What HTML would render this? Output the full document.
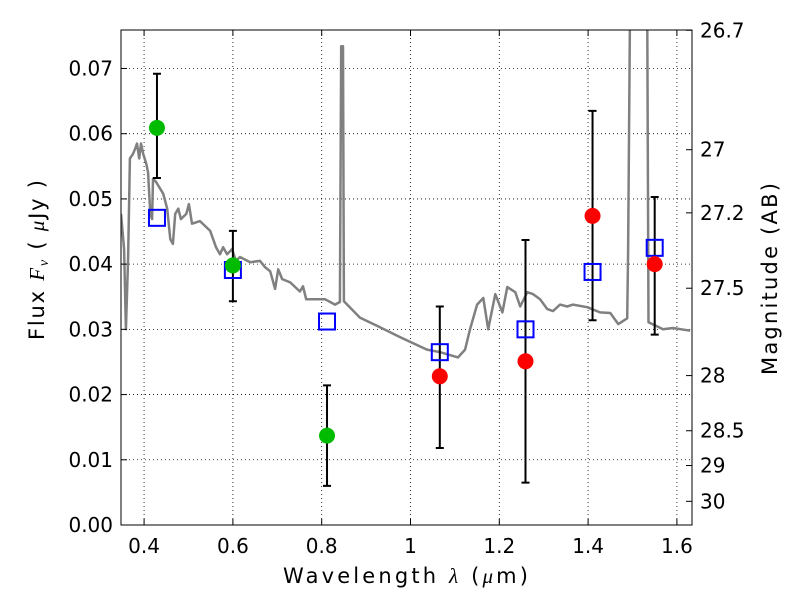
<!DOCTYPE html>
<html><head><meta charset="utf-8"><style>
body{margin:0;background:#fff;}
svg text{font-family:"DejaVu Sans","Liberation Sans",sans-serif;}
</style></head><body>
<svg id="chart" width="800" height="600" xmlns="http://www.w3.org/2000/svg">
<defs><clipPath id="clip"><rect x="121" y="30" width="571" height="495"/></clipPath></defs>
<g id="grid"></g>
<g id="spec" clip-path="url(#clip)"></g>
<g id="marks"></g>
<rect x="121" y="30" width="571" height="495" fill="none" stroke="#000" stroke-width="1"/>
<g id="axes"></g>
<text x="283" y="583" font-size="21" textLength="245" lengthAdjust="spacing">Wavelength  <tspan font-family="Liberation Serif" font-style="italic">λ</tspan> (<tspan font-family="Liberation Serif" font-style="italic">μ</tspan>m)</text>
<text transform="translate(44,340) rotate(-90)" font-size="21" textLength="160" lengthAdjust="spacing">Flux  <tspan font-family="Liberation Serif" font-style="italic">F</tspan><tspan font-family="Liberation Serif" font-size="14" dy="4" font-style="italic">ν</tspan><tspan dy="-4">  ( <tspan font-family="Liberation Serif" font-style="italic">μ</tspan>Jy )</tspan></text>
<text transform="translate(777,375) rotate(-90)" font-size="21" textLength="192" lengthAdjust="spacing">Magnitude (AB)</text>
</svg>
<script>
const xTicks=[0.4,0.6,0.8,1,1.2,1.4,1.6];
const xTickLabels=["0.4","0.6","0.8","1","1.2","1.4","1.6"];
const yTicks=[0,0.01,0.02,0.03,0.04,0.05,0.06,0.07];
const yTickLabels=["0.00","0.01","0.02","0.03","0.04","0.05","0.06","0.07"];
const magTicks=[26.7,27,27.2,27.5,28,28.5,29,30];
const magTickLabels=["26.7","27","27.2","27.5","28","28.5","29","30"];
const specLam=[0.348,0.355,0.359,0.364,0.368,0.375,0.380,0.384,0.389,0.393,0.398,0.405,0.409,0.414,0.418,0.420,0.427,0.443,0.452,0.459,0.465,0.470,0.477,0.483,0.495,0.501,0.508,0.526,0.549,0.562,0.571,0.578,0.587,0.598,0.607,0.616,0.639,0.661,0.673,0.684,0.695,0.702,0.711,0.729,0.751,0.758,0.765,0.785,0.808,0.830,0.841,0.844,0.848,0.850,0.886,0.932,0.977,1.037,1.067,1.107,1.123,1.134,1.150,1.164,1.175,1.191,1.207,1.218,1.236,1.247,1.263,1.276,1.292,1.308,1.321,1.337,1.353,1.366,1.398,1.427,1.450,1.468,1.488,1.490,1.499,1.510,1.525,1.533,1.536,1.569,1.591,1.630];
const specFlux=[0.0477,0.0423,0.0300,0.0408,0.0562,0.0569,0.0577,0.0585,0.0562,0.0585,0.0569,0.0554,0.0540,0.0477,0.0469,0.0531,0.0526,0.0508,0.0485,0.0438,0.0431,0.0477,0.0485,0.0469,0.0477,0.0492,0.0462,0.0466,0.0451,0.0426,0.0415,0.0426,0.0415,0.0423,0.0405,0.0411,0.0403,0.0405,0.0395,0.0389,0.0362,0.0392,0.0377,0.0372,0.0358,0.0366,0.0346,0.0346,0.0346,0.0338,0.0342,0.0734,0.0734,0.0343,0.0318,0.0303,0.0288,0.0269,0.0265,0.0257,0.0269,0.0300,0.0338,0.0348,0.0300,0.0354,0.0326,0.0365,0.0357,0.0335,0.0357,0.0354,0.0346,0.0331,0.0328,0.0338,0.0335,0.0338,0.0334,0.0326,0.0325,0.0308,0.0317,0.0418,0.1200,0.1300,0.1200,0.0800,0.0311,0.0300,0.0302,0.0298];
const obsLam=[0.429,0.600,0.812];
const obsFlux=[0.0609,0.0398,0.0137];
const obsLo=[0.0532,0.0343,0.0060];
const obsHi=[0.0692,0.0451,0.0214];
const hstLam=[1.066,1.259,1.410,1.550];
const hstFlux=[0.0228,0.0251,0.0474,0.0400];
const hstLo=[0.0118,0.0065,0.0314,0.0292];
const hstHi=[0.0335,0.0437,0.0635,0.0503];
const modelLam=[0.429,0.600,0.812,1.066,1.259,1.410,1.550];
const modelFlux=[0.0471,0.0391,0.0312,0.0265,0.0300,0.0388,0.0425];

const L=121,R=692,T=30,B=525,X0=0.348,X1=1.634,Y0=0,Y1=0.0759;
const sx=v=>L+(v-X0)/(X1-X0)*(R-L);
const sy=v=>B-(v-Y0)/(Y1-Y0)*(B-T);
const magToFlux=m=>Math.pow(10,(23.9-m)/2.5);
const NS='http://www.w3.org/2000/svg';
function mk(tag,attrs,parent){const e=document.createElementNS(NS,tag);for(const k in attrs)e.setAttribute(k,attrs[k]);parent.appendChild(e);return e;}
const grid=document.getElementById('grid'),axes=document.getElementById('axes'),spec=document.getElementById('spec'),marks=document.getElementById('marks');
xTicks.forEach((v,i)=>{const x=sx(v);
 let g=mk('line',{x1:x,x2:x,y1:T,y2:B,stroke:'#000','stroke-dasharray':'1,3','stroke-width':0.8},grid);
 
 let t1=mk('line',{x1:x,x2:x,y1:B,y2:B-6,stroke:'#000'},axes);
 let t2=mk('line',{x1:x,x2:x,y1:T,y2:T+6,stroke:'#000'},axes);
 let t=mk('text',{x:x,y:B+28,'font-size':20,'text-anchor':'middle'},axes);t.textContent=xTickLabels[i];
 });
yTicks.forEach((v,i)=>{const y=sy(v);
 let g=mk('line',{x1:L,x2:R,y1:y,y2:y,stroke:'#000','stroke-dasharray':'1,3','stroke-width':0.8},grid);
 
 let t1=mk('line',{x1:L,x2:L+6,y1:y,y2:y,stroke:'#000'},axes);
 let t=mk('text',{x:L-8,y:y+7,'font-size':20,'text-anchor':'end'},axes);t.textContent=yTickLabels[i];
 });
magTicks.forEach((m,i)=>{const y=sy(magToFlux(m));
 let t1=mk('line',{x1:R,x2:R-6,y1:y,y2:y,stroke:'#000'},axes);
 let t=mk('text',{x:R+8,y:y+7,'font-size':20,'text-anchor':'start'},axes);t.textContent=magTickLabels[i];
 });
const pts=specLam.map((l,i)=>sx(l).toFixed(1)+','+sy(specFlux[i]).toFixed(1)).join(' ');
const pl=mk('polyline',{points:pts,fill:'none',stroke:'#808080','stroke-width':2.5,'stroke-linejoin':'round'},spec);

function errbar(l,lo,hi){const x=sx(l);
 let e=mk('path',{d:`M${x},${sy(lo)}V${sy(hi)}M${x-4},${sy(lo)}h8M${x-4},${sy(hi)}h8`,stroke:'#000','stroke-width':2,fill:'none'},marks);
 }
obsLam.forEach((l,i)=>errbar(l,obsLo[i],obsHi[i]));
hstLam.forEach((l,i)=>errbar(l,hstLo[i],hstHi[i]));
modelLam.forEach((l,i)=>{let r=mk('rect',{x:sx(l)-8,y:sy(modelFlux[i])-8,width:16,height:16,fill:'none',stroke:'#0000ff','stroke-width':2},marks);
 });
obsLam.forEach((l,i)=>{let c=mk('circle',{cx:sx(l),cy:sy(obsFlux[i]),r:8,fill:'#00bb00'},marks);
 });
hstLam.forEach((l,i)=>{let c=mk('circle',{cx:sx(l),cy:sy(hstFlux[i]),r:8,fill:'#ff0000'},marks);
 });
</script>
</body></html>
